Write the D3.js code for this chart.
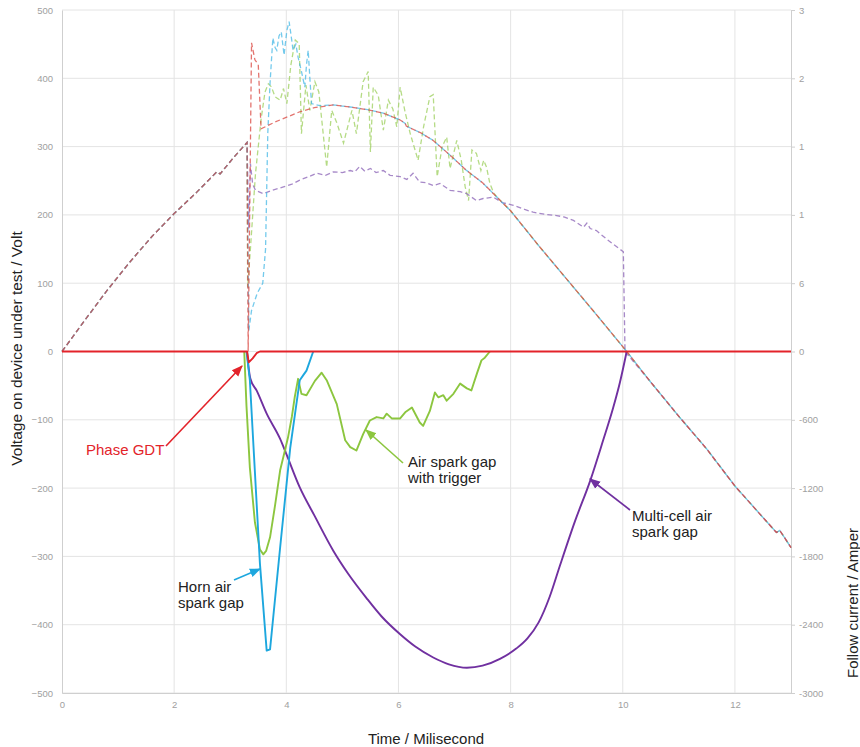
<!DOCTYPE html>
<html><head><meta charset="utf-8">
<script src="https://cdn.jsdelivr.net/npm/d3@7"></script>
<style>body{margin:0;background:#fff} svg{display:block}</style>
</head><body><svg id="c" width="860" height="747"></svg>
<script>
// ---------- data ----------
const xTicks = [0, 2, 4, 6, 8, 10, 12];
const yLeftTicks = [-500, -400, -300, -200, -100, 0, 100, 200, 300, 400, 500];
const yRightTicks = [-3000, -2400, -1800, -1200, -600, 0, 600, 1200, 1800, 2400, 3000];
const yRightTickLabels = ["-3000", "-2400", "-1800", "-1200", "-600", "0", "6", "1", "1", "2", "3"];

// voltage (V) before the arc, shared by all devices [ms, V]
const rampV = [[0,0],[0.4,45],[0.8,89],[1.2,130],[1.6,168],[2.0,202],[2.4,233],[2.76,263],[2.82,260],[3.05,283],[3.3,306]];
// mains voltage after arc extinction
const topV = [[4.84,361],[5.14,358],[5.45,354],[5.73,349],[6.03,339],[6.12,334],[6.14,330],[6.4,320],[6.62,309],[6.9,289],[7.2,266],[7.5,247]];
const tailA = [[7.78,224],[8.0,206],[8.5,155],[9.0,106],[9.5,57],[9.75,32],[10.07,0]];
const tailB = [[10.5,-45],[11.0,-95],[11.5,-143],[12.0,-197],[12.5,-243],[12.74,-265],[12.8,-262],[13.0,-287]];

// device-specific voltage during the arc [ms, V]
const gdtArcV = [[3.32,0],[3.38,452],[3.44,427],[3.50,420],[3.55,326],[3.8,336],[4.24,351],[4.5,357]];
const hornArcV = [[3.33,30],[3.38,60],[3.48,85],[3.58,100],[3.63,150],[3.67,320],[3.71,393],[3.76,459],[3.80,445],[3.83,441],[3.87,462],[3.91,468],[3.96,434],[4.01,470],[4.05,483],[4.09,460],[4.12,441],[4.17,450],[4.21,431],[4.27,410],[4.33,387],[4.36,420],[4.39,441],[4.42,400],[4.45,363],[4.6,360]];
const trigArcV = [[3.31,94],[3.36,150],[3.45,260],[3.55,340],[3.62,380],[3.68,392],[3.73,388],[3.80,373],[3.89,368],[3.95,385],[4.01,363],[4.08,419],[4.16,456],[4.23,451],[4.27,319],[4.35,390],[4.42,353],[4.51,395],[4.58,380],[4.72,270],[4.81,353],[4.90,335],[5.02,305],[5.17,353],[5.25,319],[5.37,395],[5.46,410],[5.50,292],[5.55,387],[5.64,375],[5.73,324],[5.82,368],[5.90,355],[5.97,329],[6.03,387],[6.12,350],[6.21,319],[6.35,280],[6.45,330],[6.56,373],[6.62,376],[6.69,256],[6.78,300],[6.86,314],[6.92,268],[7.04,309],[7.12,280],[7.19,241],[7.25,221],[7.31,295],[7.39,290],[7.47,265],[7.52,280],[7.57,270],[7.63,246],[7.70,232]];
const multiArcV = [[3.33,180],[3.36,275],[3.40,245],[3.45,236],[3.59,231],[3.75,236],[3.95,241],[4.1,245],[4.24,251],[4.4,256],[4.54,261],[4.7,258],[4.84,263],[5.0,262],[5.14,265],[5.22,263],[5.31,271],[5.4,264],[5.5,268],[5.6,262],[5.73,265],[5.85,258],[6.03,256],[6.15,252],[6.26,261],[6.38,248],[6.5,247],[6.62,243],[6.74,246],[6.92,236],[7.1,234],[7.22,231],[7.39,221],[7.51,224],[7.69,226],[7.85,218],[8.05,214],[8.25,208],[8.40,204],[8.6,201],[8.82,199],[8.95,197],[9.12,192],[9.30,182],[9.36,188],[9.42,180],[9.53,177],[9.75,162],[10.01,146],[10.04,0],[10.07,-3]];

// follow current (A) [ms, A]
const gdtI = [[0,0],[3.30,0],[3.33,-95],[3.40,-60],[3.47,-15],[3.53,0],[13,0]];
const hornI = [[3.29,0],[3.35,-252],[3.53,-1866],[3.65,-2628],[3.71,-2616],[3.89,-1722],[4.07,-846],[4.24,-252],[4.30,-210],[4.36,-168],[4.48,0]];
const trigI = [[3.25,0],[3.29,-480],[3.35,-1020],[3.44,-1500],[3.53,-1740],[3.59,-1782],[3.64,-1752],[3.71,-1632],[3.80,-1350],[3.89,-1044],[3.96,-900],[4.03,-756],[4.10,-570],[4.15,-402],[4.21,-240],[4.27,-372],[4.36,-384],[4.51,-258],[4.63,-186],[4.72,-252],[4.90,-462],[5.05,-780],[5.14,-840],[5.25,-870],[5.37,-726],[5.49,-606],[5.61,-576],[5.73,-588],[5.79,-546],[5.88,-588],[6.03,-588],[6.12,-534],[6.24,-492],[6.38,-624],[6.44,-654],[6.56,-522],[6.65,-360],[6.71,-402],[6.80,-384],[6.86,-432],[6.98,-372],[7.10,-282],[7.22,-324],[7.30,-342],[7.40,-192],[7.48,-78],[7.54,-54],[7.63,0]];
const multiI = [[3.30,0],[3.33,-150],[3.36,-240],[3.47,-342],[3.65,-546],[3.89,-768],[4.0,-900],[4.24,-1194],[4.5,-1440],[4.84,-1752],[5.1,-1950],[5.43,-2166],[5.7,-2328],[6.03,-2484],[6.3,-2592],[6.62,-2688],[6.9,-2748],[7.22,-2778],[7.5,-2760],[7.81,-2700],[8.1,-2610],[8.3,-2520],[8.5,-2380],[8.7,-2150],[8.88,-1880],[9.15,-1488],[9.42,-1134],[9.65,-780],[9.83,-492],[9.95,-270],[10.07,0]];

// ---------- chart ----------
const svg = d3.select("#c");
const L = 62, R = 791, T = 10, B = 693;
const x = d3.scaleLinear().domain([0, 13]).range([L, R]);
const yL = d3.scaleLinear().domain([-500, 500]).range([B, T]);
const yR = d3.scaleLinear().domain([-3000, 3000]).range([B, T]);
const font = "'Liberation Sans', Arial, Helvetica, sans-serif";

// grid
const grid = svg.append("g");
grid.selectAll("line.h").data(yLeftTicks).join("line")
  .attr("x1", L).attr("x2", R).attr("y1", d => yL(d)).attr("y2", d => yL(d))
  .attr("stroke", "#e4e4e4").attr("stroke-width", 1);
grid.selectAll("line.v").data(xTicks.filter(d => d > 0)).join("line")
  .attr("x1", d => x(d)).attr("x2", d => x(d)).attr("y1", T).attr("y2", B)
  .attr("stroke", "#e4e4e4").attr("stroke-width", 1);

// axes
const axL = svg.append("g").attr("transform", `translate(${L},0)`)
  .call(d3.axisLeft(yL).tickValues(yLeftTicks).tickSize(0).tickPadding(9));
const axB = svg.append("g").attr("transform", `translate(0,${B})`)
  .call(d3.axisBottom(x).tickValues(xTicks).tickSize(0).tickPadding(8));
const axR = svg.append("g").attr("transform", `translate(${R},0)`)
  .call(d3.axisRight(yR).tickValues(yRightTicks).tickSize(4).tickPadding(4)
    .tickFormat((d, i) => yRightTickLabels[i]));
[axL, axB, axR].forEach(a => {
  a.select(".domain").attr("stroke", "#cfcfcf");
  a.selectAll(".tick line").attr("stroke", "#cfcfcf");
  a.selectAll("text").attr("fill", "#a0a0a0").attr("font-size", 9.5).attr("font-family", font);
});

// axis titles
svg.append("text").attr("transform", `translate(22,${(T + B) / 2 - 3}) rotate(-90)`)
  .attr("text-anchor", "middle").attr("font-family", font).attr("font-size", 15.5).attr("fill", "#222")
  .text("Voltage on device under test / Volt");
svg.append("text").attr("transform", `translate(858,603) rotate(-90)`)
  .attr("text-anchor", "middle").attr("font-family", font).attr("font-size", 15).attr("fill", "#222")
  .text("Follow current / Amper");
svg.append("text").attr("x", 426).attr("y", 744)
  .attr("text-anchor", "middle").attr("font-family", font).attr("font-size", 15).attr("fill", "#222")
  .text("Time / Milisecond");

// lines
const lineV = d3.line().x(d => x(d[0])).y(d => yL(d[1]));
const lineI = d3.line().x(d => x(d[0])).y(d => yR(d[1]));
const plot = svg.append("g");

const dashed = [
  { data: rampV.concat(trigArcV, tailA, tailB), color: "#9ccf5c" },
  { data: rampV.concat(multiArcV, tailB), color: "#8a62b6" },
  { data: rampV.concat(hornArcV, topV, tailA, tailB), color: "#46b8e6" },
  { data: rampV.concat(gdtArcV, topV, tailA, tailB), color: "#d9453f" }
];
dashed.forEach(s => {
  plot.append("path").attr("d", lineV(s.data)).attr("fill", "none")
    .attr("stroke", s.color).attr("stroke-width", 1.3).attr("stroke-opacity", 0.75)
    .attr("stroke-dasharray", "5,3");
});

const solid = [
  { data: multiI, color: "#7030a0", curve: d3.curveMonotoneX },
  { data: trigI, color: "#8cc63f", curve: d3.curveLinear },
  { data: hornI, color: "#1da7de", curve: d3.curveLinear },
  { data: gdtI, color: "#e3232a", curve: d3.curveLinear }
];
solid.forEach(s => {
  plot.append("path").attr("d", lineI.curve(s.curve)(s.data)).attr("fill", "none")
    .attr("stroke", s.color).attr("stroke-width", 1.9).attr("stroke-linejoin", "round");
});

// annotations
const defs = svg.append("defs");
function arrow(id, color, x1, y1, x2, y2) {
  defs.append("marker").attr("id", id).attr("viewBox", "0 0 10 10").attr("refX", 9).attr("refY", 5)
    .attr("markerWidth", 7).attr("markerHeight", 7).attr("orient", "auto")
    .append("path").attr("d", "M0,1 L10,5 L0,9 Z").attr("fill", color);
  svg.append("line").attr("x1", x1).attr("y1", y1).attr("x2", x2).attr("y2", y2)
    .attr("stroke", color).attr("stroke-width", 1.6).attr("marker-end", `url(#${id})`);
}
function label(lines, x0, y0, color) {
  const t = svg.append("text").attr("font-family", font).attr("font-size", 15).attr("fill", color);
  lines.forEach((s, i) => t.append("tspan").attr("x", x0).attr("y", y0 + i * 15.5).text(s));
}
label(["Phase GDT"], 86, 455, "#e3232a");
arrow("aR", "#e3232a", 166, 446, 242, 366);
label(["Horn air", "spark gap"], 178, 592, "#222");
arrow("aC", "#1da7de", 234, 580, 260, 569);
label(["Air spark gap", "with trigger"], 408, 467, "#222");
arrow("aG", "#8cc63f", 403, 463, 366, 430);
label(["Multi-cell air", "spark gap"], 632, 521, "#222");
arrow("aP", "#7030a0", 630, 510, 590, 479);
</script></body></html>
